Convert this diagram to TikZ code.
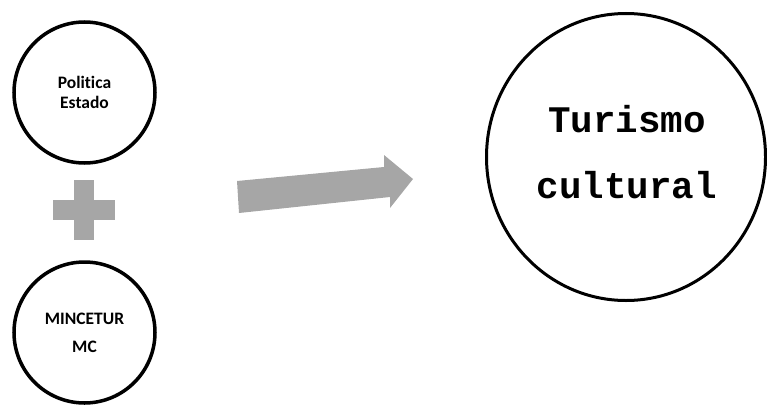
\documentclass[tikz,border=0pt]{standalone}
\usepackage{fontspec}
\setmainfont{Carlito}[Ligatures=NoCommon]
\newfontfamily\monofont{Liberation Mono}
\usetikzlibrary{shapes.geometric}
\definecolor{plusgray}{HTML}{A6A6A6}
\tikzset{
  smallcirc/.style={circle, draw=black, line width=3.5pt, minimum size=141pt, inner sep=0pt, align=center, font=\fontsize{17.5}{20}\selectfont\bfseries},
  bigcirc/.style={ellipse, draw=black, line width=3pt, minimum width=279pt, minimum height=287pt, inner sep=0pt},
  bigtext/.style={inner sep=0pt, align=center, font=\fontsize{37.5}{66}\selectfont\monofont\bfseries},
  grayshape/.style={fill=plusgray, draw=none}
}
\begin{document}
\begin{tikzpicture}[x=1pt,y=-1pt]
\useasboundingbox (0,0) rectangle (767,404);
\node[smallcirc] (pol) at (84.5,92.5) {Politica\\Estado};
\node[smallcirc, font=\fontsize{17.5}{28}\selectfont\bfseries] (min) at (84.5,332.5) {MINCETUR\\MC};
\node[bigcirc] (tur) at (626,157) {};
\node[bigtext] (turtext) at (627,152) {Turismo\\cultural};
% plus sign
\fill[grayshape] (74,180) rectangle (94,240);
\fill[grayshape] (53,200) rectangle (115,220);
% arrow
\fill[grayshape] (237,181) -- (384,167) -- (384,155) -- (413,179) -- (390,208) -- (390,197) -- (239,213) -- cycle;
\end{tikzpicture}
\end{document}
